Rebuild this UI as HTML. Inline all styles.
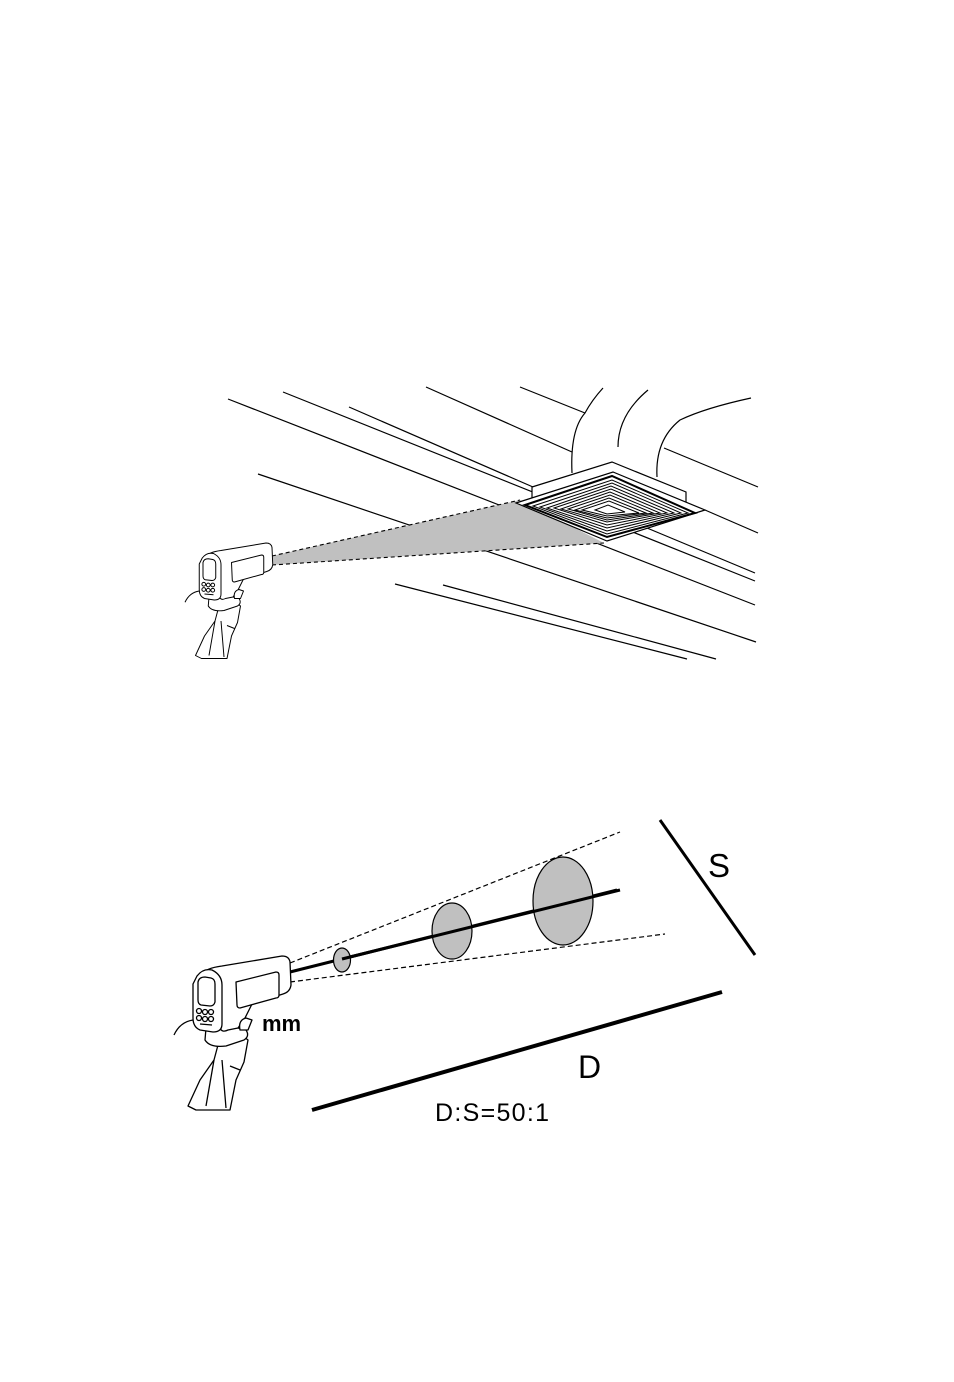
<!DOCTYPE html>
<html><head><meta charset="utf-8"><style>
html,body{margin:0;padding:0;background:#fff;}
svg{display:block;}
</style></head><body>
<svg width="954" height="1382" viewBox="0 0 954 1382" xmlns="http://www.w3.org/2000/svg">
<defs>
<g id="gun" fill="#fff" stroke="#000" stroke-width="1.3" stroke-linejoin="round">
  <path d="M222,1030 L214,1060 L200,1080 L188,1106 L196,1110 L230,1110 L236,1080 L244,1062 L248,1040 L238,1032 Z"/>
  <path d="M214,1060 L206,1106 M222,1060 L226,1108 M230,1066 L240,1070"/>
  <path d="M205,1040 Q210,1048 226,1046 L244,1040 Q250,1036 246,1030 L230,1026 L206,1028 Z"/>
  <path d="M200,975 Q206,968 222,966 L282,956 Q289,956 290,962 L291,985 Q290,992 283,994 L252,1004 L245,1018 L238,1028 L228,1030 Q222,1033 220,1028 L218,1000 Z"/>
  <path d="M236,982 L276,972 Q279,972 279,975 L279,995 Q279,998 276,998 L240,1008 Q237,1008 237,1005 Z"/>
  <path d="M240,1030 Q238,1020 246,1018 L252,1020 L248,1030 Z"/>
  <path d="M197,976 Q203,968 212,970 Q222,975 222,985 L222,1024 Q222,1032 213,1032 L200,1030 Q193,1027 193,1018 L193,984 Z"/>
  <path d="M198,982 Q199,977 205,977 L211,978 Q215,979 215,984 L215,1002 Q214,1006 210,1006 L201,1005 Q198,1004 198,1000 Z"/>
  <circle cx="199" cy="1011" r="2.5"/><circle cx="205" cy="1012" r="2.5"/><circle cx="211" cy="1012" r="2.5"/>
  <circle cx="199" cy="1018" r="2.5"/><circle cx="205" cy="1019" r="2.5"/><circle cx="211" cy="1019" r="2.5"/>
  <path d="M200,1024 L212,1025"/>
  <path d="M193,1020 Q180,1022 174,1035" fill="none"/>
</g>
</defs>

<g stroke="#000" stroke-width="1.2" fill="none">
  <line x1="228" y1="399" x2="755" y2="605"/>
  <line x1="283" y1="392" x2="755" y2="581"/>
  <line x1="258" y1="474" x2="756" y2="642"/>
  <line x1="349" y1="407" x2="533" y2="487"/>
  <line x1="426" y1="387" x2="572" y2="452"/>
  <line x1="520" y1="387" x2="585" y2="413"/>
  <line x1="664" y1="448" x2="758" y2="487"/>
  <line x1="647" y1="528" x2="755" y2="573"/>
  <line x1="705" y1="510" x2="758" y2="533"/>
  <line x1="395" y1="584" x2="687" y2="659"/>
  <line x1="443" y1="585" x2="716" y2="659"/>
  <path d="M572,473 Q570,430 585,413 Q592,400 603,388"/>
  <path d="M618,447 Q618,415 648,390"/>
  <path d="M657,477 Q655,440 680,420 Q705,408 751,398"/>
</g>
<polygon points="272,556 520,500 604,543 272,565" fill="#c0c0c0"/>
<g stroke="#000" stroke-width="1.1" stroke-dasharray="4,3" fill="none">
  <line x1="272" y1="556" x2="520" y2="500"/>
  <line x1="272" y1="565" x2="604" y2="543"/>
</g>
<g stroke="#000" stroke-width="1.2" fill="#fff">
  <polygon points="532,487 612,462 686,492 686,506 532,498"/>
  <polygon points="516,503 613,472 705,510 607,541"/>
  <polygon points="525,505 612,476 695,513 607,537" stroke-width="2"/>
</g>
<g stroke="#000" stroke-width="1" fill="none">
  <polygon points="533,506 612,480 688,513 607,534"/>
  <polygon points="540,507 612,483 681,513 607,531"/>
  <polygon points="547,508 611,486 674,513 607,528"/>
  <polygon points="554,508 611,489 667,513 607,525"/>
  <polygon points="561,509 610,492 660,513 607,522"/>
  <polygon points="568,509 610,495 653,513 607,520"/>
  <polygon points="575,510 609,498 646,513 607,518"/>
  <polygon points="582,510 609,501 639,513 607,516"/>
  <polygon points="595,510 608,505 625,512 607,514"/>
</g>
<use href="#gun" transform="translate(272,555) scale(0.75) translate(-290,-972)"/>

<g stroke="#000" stroke-width="1.2" stroke-dasharray="5,3" fill="none">
  <line x1="290" y1="963" x2="620" y2="832"/>
  <line x1="290" y1="982" x2="665" y2="934"/>
</g>
<line x1="290" y1="972" x2="617" y2="890" stroke="#000" stroke-width="3"/>
<g fill="#c0c0c0" stroke="#000" stroke-width="1.2">
  <ellipse cx="342" cy="960" rx="8.5" ry="12"/>
  <ellipse cx="452" cy="931" rx="20" ry="28"/>
  <ellipse cx="563" cy="901" rx="30" ry="44"/>
</g>
<line x1="342" y1="959" x2="620" y2="890" stroke="#000" stroke-width="3"/>
<line x1="660" y1="820" x2="755" y2="955" stroke="#000" stroke-width="3"/>
<line x1="312" y1="1110" x2="722" y2="992" stroke="#000" stroke-width="4"/>
<use href="#gun"/>
<g font-family="Liberation Sans, sans-serif" fill="#000">
  <text x="708" y="877" font-size="33">S</text>
  <text x="578" y="1078" font-size="32">D</text>
  <text x="435" y="1121" font-size="25" letter-spacing="1.3">D:S=50:1</text>
  <text x="262" y="1031" font-size="22" font-weight="bold">mm</text>
</g>
</svg>
</body></html>
